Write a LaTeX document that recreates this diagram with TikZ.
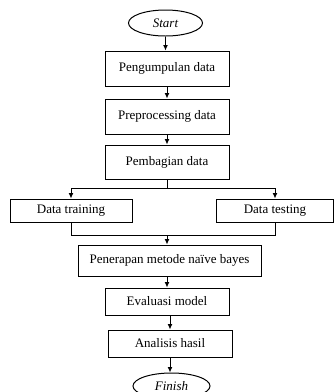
\documentclass[tikz,border=0pt]{standalone}
\usepackage{fontspec}
\setmainfont{Liberation Serif}
\usepackage{tikz}
\usetikzlibrary{
	positioning,
	arrows.meta,
	shapes.geometric,
	calc
}

\tikzset{
	stepbox/.style={draw, line width=1pt, rectangle, minimum height=#1, inner sep=1pt,
		font=\fontsize{13}{15}\selectfont},
	terminal/.style={draw, line width=1pt, ellipse, minimum width=74pt, minimum height=26pt,
		inner sep=0pt, font=\fontsize{13}{15}\selectfont\itshape},
	arr/.style={line width=1pt, -{Latex[length=5.5pt,width=5pt]}},
	link/.style={line width=1pt}
}

\begin{document}
\begin{tikzpicture}[x={(1pt,0)}, y={(0,-1pt)}]
				
				\useasboundingbox (0,0) rectangle (334,392);
				
				% Terminals
				\node[terminal] (start) at (165.5,23) {Start};
				\node[terminal, minimum width=77pt] (finish) at (171.5,386) {Finish};
				
				% Steps
				\node[stepbox=35pt, minimum width=124pt] (collect) at (167,68.5) {Pengumpulan data};
				\node[stepbox=35pt, minimum width=124pt] (prep) at (167,116.5) {Preprocessing data};
				\node[stepbox=34pt, minimum width=124pt] (split) at (167,162) {Pembagian data};
				\node[stepbox=23pt, minimum width=122pt] (train) at (71,210.5) {Data training};
				\node[stepbox=23pt, minimum width=117pt] (test) at (275,210.5) {Data testing};
				\node[stepbox=31pt, minimum width=183pt] (naive) at (169.5,260.5) {Penerapan metode naïve bayes};
				\node[stepbox=27pt, minimum width=124pt] (eval) at (167,301.5) {Evaluasi model};
				\node[stepbox=27pt, minimum width=124pt] (result) at (170,343.5) {Analisis hasil};
				
				% Connections
				\draw[arr] (start) -- (start |- collect.north);
				\draw[arr] (collect) -- (prep);
				\draw[arr] (prep) -- (split);
				
				\draw[link] (split.south) -- ++(0,9) coordinate (fork);
				\draw[arr] (fork) -| (train.north);
				\draw[arr] (fork) -| (test.north);
				
				\draw[link] (train.south) -- ++(0,13) coordinate (join) -| (test.south);
				\coordinate (mid) at (join -| split.south);
				\draw[arr] (mid) -- (mid |- naive.north);
				
				\coordinate (evtop) at (eval.north);
				\draw[arr] (naive.south -| evtop) -- (evtop);
				\coordinate (restop) at (result.north);
				\draw[arr] (eval.south -| restop) -- (restop);
				\draw[arr] (result) -- (result |- finish.north);
				
			\end{tikzpicture}
\end{document}
